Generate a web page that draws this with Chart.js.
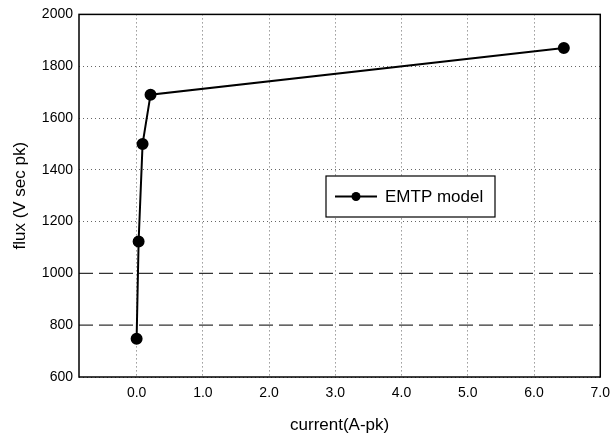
<!DOCTYPE html>
<html>
<head>
<meta charset="utf-8">
<script src="https://cdn.jsdelivr.net/npm/chart.js@4.4.1/dist/chart.umd.min.js"></script>
<style>
  html, body { margin: 0; padding: 0; background: #fff; overflow: hidden; }
  #wrap { width: 618px; height: 437px; }
</style>
</head>
<body>
<div id="wrap"><canvas id="chart"></canvas></div>
<script>
// Datos
const corriente = [0.0, 0.03, 0.09, 0.21, 6.45];
const flujo = [748, 1123, 1500, 1690, 1870];
const ticksX = [0, 1, 2, 3, 4, 5, 6, 7];
const etiquetaSerie = 'EMTP model';
const lineasDiscontinuas = [800, 1000];

const fuente = "'Liberation Sans', Arial, sans-serif";

// Marco y leyenda dentro del área de trazado
const marcoLeyenda = {
    id: 'marcoLeyenda',
    afterDatasetsDraw(chart) {
        const { ctx, chartArea: a } = chart;
        ctx.save();
        ctx.strokeStyle = '#000';
        ctx.lineWidth = 1.5;
        ctx.strokeRect(a.left, a.top, a.right - a.left, a.bottom - a.top);

        // caja de leyenda
        const x = 326, y = 176, w = 169, h = 41;
        ctx.fillStyle = '#fff';
        ctx.fillRect(x, y, w, h);
        ctx.lineWidth = 1.2;
        ctx.strokeRect(x, y, w, h);
        const cy = y + h / 2;
        ctx.lineWidth = 2;
        ctx.beginPath();
        ctx.moveTo(x + 9, cy);
        ctx.lineTo(x + 51, cy);
        ctx.stroke();
        ctx.beginPath();
        ctx.arc(x + 30, cy, 4.5, 0, Math.PI * 2);
        ctx.fillStyle = '#000';
        ctx.fill();
        ctx.font = '17px ' + fuente;
        ctx.textBaseline = 'middle';
        ctx.fillText(chart.data.datasets[0].label, x + 59, cy + 1);
        ctx.restore();
    }
};

// líneas horizontales discontinuas largas en 800 y 1000
const guiones = {
    id: 'guiones',
    beforeDatasetsDraw(chart) {
        const { ctx, chartArea: a, scales } = chart;
        ctx.save();
        ctx.strokeStyle = '#333';
        ctx.lineWidth = 1.2;
        ctx.setLineDash([14, 6]);
        lineasDiscontinuas.forEach(v => {
            const yy = scales.y.getPixelForValue(v);
            ctx.beginPath();
            ctx.moveTo(a.left, yy);
            ctx.lineTo(a.right, yy);
            ctx.stroke();
        });
        ctx.restore();
    }
};

new Chart(document.getElementById('chart'), {
    type: 'scatter',
    data: {
        datasets: [{
            label: etiquetaSerie,
            data: corriente.map((c, i) => ({ x: c, y: flujo[i] })),
            showLine: true,
            borderColor: '#000',
            backgroundColor: '#000',
            borderWidth: 2,
            pointRadius: 5,
            pointHoverRadius: 5
        }]
    },
    options: {
        responsive: true,
        maintainAspectRatio: false,
        animation: false,
        layout: { padding: { top: 13, right: 0, left: 0, bottom: 0 } },
        plugins: {
            legend: { display: false },
            tooltip: { enabled: false }
        },
        scales: {
            x: {
                type: 'linear',
                min: -0.87,
                max: 7,
                afterBuildTicks: (s) => { s.ticks = ticksX.map(v => ({ value: v })); },
                afterFit: (s) => { s.height = 60; },
                ticks: {
                    color: '#000',
                    font: { family: fuente, size: 14 },
                    padding: 8,
                    maxRotation: 0,
                    callback: (v) => Number(v).toFixed(1)
                },
                grid: {
                    color: '#666',
                    lineWidth: 1,
                    drawTicks: false
                },
                border: { display: false, dash: [1, 3] },
                title: {
                    display: true,
                    text: 'current(A-pk)',
                    color: '#000',
                    font: { family: fuente, size: 17 },
                    padding: { top: 0, bottom: 1 }
                }
            },
            y: {
                min: 600,
                max: 2000,
                afterFit: (s) => { s.width = 79; },
                ticks: {
                    stepSize: 200,
                    color: '#000',
                    font: { family: fuente, size: 14 },
                    padding: 6,
                    callback: (v) => String(v)
                },
                grid: {
                    color: (c) => lineasDiscontinuas.includes(c.tick && c.tick.value) ? 'rgba(0,0,0,0)' : '#666',
                    lineWidth: 1,
                    drawTicks: false
                },
                border: { display: false, dash: [1, 3] },
                title: {
                    display: true,
                    text: 'flux (V sec pk)',
                    color: '#000',
                    font: { family: fuente, size: 17 },
                    padding: { top: 10, bottom: 0 }
                }
            }
        }
    },
    plugins: [marcoLeyenda, guiones]
});
</script>
</body>
</html>
